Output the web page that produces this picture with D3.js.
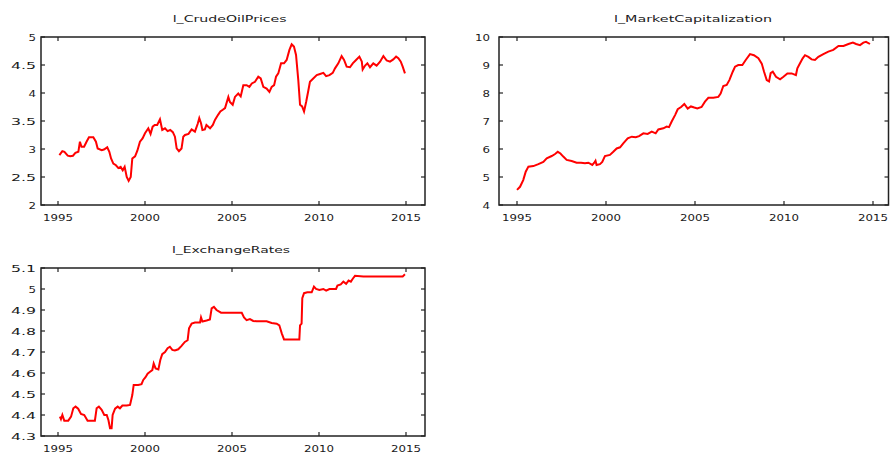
<!DOCTYPE html>
<html><head><meta charset="utf-8">
<script src="https://cdn.jsdelivr.net/npm/d3@7"></script>
<style>body{margin:0;background:#fff}svg{display:block}</style>
</head><body><svg id="c" width="890" height="453"></svg>
<script>
// ---- data (decimal years) ----
const crudeT=[1995.08,1995.25,1995.37,1995.56,1995.7,1995.86,1996.0,1996.17,1996.26,1996.35,1996.5,1996.64,1996.78,1997.03,1997.18,1997.28,1997.51,1997.64,1997.83,1997.95,1998.05,1998.18,1998.33,1998.47,1998.6,1998.72,1998.83,1998.95,1999.06,1999.18,1999.27,1999.43,1999.56,1999.71,1999.86,2000.0,2000.19,2000.32,2000.44,2000.56,2000.7,2000.86,2000.99,2001.15,2001.3,2001.45,2001.6,2001.72,2001.82,2001.95,2002.1,2002.2,2002.3,2002.5,2002.68,2002.87,2003.03,2003.12,2003.22,2003.3,2003.44,2003.53,2003.74,2003.9,2004.02,2004.2,2004.33,2004.47,2004.6,2004.79,2004.88,2005.04,2005.17,2005.36,2005.5,2005.65,2005.84,2006.0,2006.14,2006.32,2006.51,2006.65,2006.8,2006.99,2007.15,2007.28,2007.42,2007.53,2007.66,2007.82,2007.99,2008.14,2008.3,2008.43,2008.56,2008.68,2008.81,2008.91,2009.03,2009.14,2009.26,2009.39,2009.48,2009.67,2009.87,2010.06,2010.25,2010.41,2010.6,2010.79,2010.92,2011.11,2011.3,2011.44,2011.59,2011.78,2011.94,2012.13,2012.32,2012.46,2012.51,2012.65,2012.78,2012.93,2013.12,2013.31,2013.51,2013.7,2013.89,2014.08,2014.27,2014.43,2014.56,2014.7,2014.81,2014.94];
const crudeV=[2.89,2.96,2.95,2.88,2.87,2.88,2.93,2.95,3.13,3.04,3.04,3.13,3.21,3.21,3.13,3.01,2.98,2.99,3.03,2.95,2.83,2.74,2.71,2.66,2.68,2.62,2.68,2.50,2.43,2.50,2.83,2.87,2.97,3.13,3.19,3.28,3.37,3.27,3.40,3.43,3.43,3.53,3.34,3.37,3.32,3.34,3.30,3.22,3.01,2.96,3.01,3.22,3.25,3.27,3.35,3.31,3.45,3.55,3.46,3.34,3.35,3.43,3.37,3.43,3.52,3.61,3.67,3.70,3.73,3.93,3.84,3.79,3.93,3.99,3.94,4.14,4.14,4.11,4.17,4.20,4.29,4.26,4.11,4.08,4.02,4.11,4.14,4.29,4.35,4.53,4.53,4.59,4.77,4.87,4.83,4.68,4.23,3.79,3.76,3.67,3.84,4.05,4.20,4.26,4.32,4.34,4.36,4.30,4.32,4.36,4.44,4.53,4.66,4.59,4.47,4.46,4.53,4.59,4.65,4.56,4.42,4.49,4.53,4.46,4.53,4.49,4.56,4.66,4.58,4.56,4.60,4.65,4.62,4.56,4.47,4.35];

const mcapT=[1995.0,1995.17,1995.35,1995.49,1995.64,1995.92,1996.2,1996.48,1996.67,1996.95,1997.14,1997.29,1997.44,1997.6,1997.79,1998.07,1998.35,1998.6,1998.82,1999.01,1999.23,1999.34,1999.41,1999.47,1999.66,1999.79,1999.94,2000.22,2000.41,2000.6,2000.79,2000.97,2001.22,2001.45,2001.67,2001.86,2002.1,2002.34,2002.57,2002.79,2002.94,2003.22,2003.41,2003.54,2003.69,2003.88,2004.03,2004.22,2004.4,2004.59,2004.77,2004.96,2005.13,2005.37,2005.56,2005.75,2006.03,2006.31,2006.44,2006.59,2006.78,2006.93,2007.12,2007.25,2007.43,2007.66,2007.85,2008.09,2008.31,2008.56,2008.75,2008.88,2009.03,2009.16,2009.25,2009.37,2009.55,2009.78,2009.97,2010.19,2010.43,2010.67,2010.75,2010.9,2011.05,2011.18,2011.37,2011.55,2011.74,2011.93,2012.21,2012.49,2012.77,2013.06,2013.34,2013.62,2013.87,2014.05,2014.27,2014.46,2014.61,2014.83];
const mcapV=[4.54,4.65,4.89,5.19,5.37,5.39,5.46,5.54,5.67,5.75,5.82,5.90,5.84,5.73,5.61,5.57,5.51,5.51,5.49,5.51,5.43,5.51,5.58,5.43,5.46,5.54,5.75,5.79,5.90,6.02,6.06,6.20,6.38,6.44,6.42,6.46,6.56,6.54,6.62,6.56,6.70,6.74,6.80,6.78,6.98,7.21,7.42,7.50,7.61,7.44,7.52,7.48,7.45,7.50,7.69,7.83,7.83,7.86,7.98,8.25,8.29,8.46,8.76,8.94,9.00,9.00,9.18,9.39,9.35,9.24,9.05,8.76,8.46,8.41,8.71,8.76,8.58,8.49,8.58,8.70,8.70,8.64,8.88,9.06,9.24,9.35,9.29,9.20,9.18,9.29,9.39,9.48,9.54,9.68,9.68,9.75,9.80,9.75,9.71,9.80,9.83,9.75];

const exT=[1995.11,1995.17,1995.25,1995.36,1995.59,1995.75,1995.88,1996.01,1996.16,1996.32,1996.51,1996.7,1996.93,1997.12,1997.22,1997.35,1997.51,1997.66,1997.8,1997.9,1997.99,1998.08,1998.14,1998.28,1998.43,1998.56,1998.7,1998.95,1999.14,1999.27,1999.35,1999.61,1999.8,1999.9,2000.03,2000.15,2000.29,2000.42,2000.5,2000.61,2000.77,2000.88,2000.99,2001.15,2001.3,2001.43,2001.57,2001.72,2001.91,2002.1,2002.29,2002.45,2002.53,2002.68,2002.87,2003.16,2003.22,2003.3,2003.54,2003.73,2003.83,2003.96,2004.11,2004.37,2004.7,2005.14,2005.56,2005.69,2005.84,2006.03,2006.22,2006.41,2006.99,2007.28,2007.57,2007.72,2007.86,2007.99,2008.24,2008.62,2008.87,2008.91,2009.0,2009.04,2009.14,2009.33,2009.58,2009.71,2009.83,2010.02,2010.25,2010.41,2010.6,2010.98,2011.06,2011.25,2011.4,2011.56,2011.7,2011.83,2011.95,2012.07,2012.55,2013.5,2014.46,2014.81,2014.94];
const exV=[4.392,4.38,4.40,4.373,4.373,4.392,4.432,4.44,4.43,4.405,4.40,4.373,4.373,4.373,4.432,4.44,4.425,4.40,4.40,4.375,4.337,4.337,4.40,4.43,4.44,4.432,4.445,4.445,4.448,4.495,4.543,4.543,4.547,4.567,4.58,4.597,4.606,4.614,4.645,4.622,4.617,4.662,4.69,4.70,4.718,4.725,4.71,4.707,4.713,4.729,4.748,4.756,4.813,4.835,4.84,4.84,4.865,4.845,4.85,4.855,4.908,4.915,4.90,4.887,4.887,4.887,4.887,4.865,4.852,4.857,4.848,4.846,4.846,4.838,4.835,4.827,4.789,4.76,4.76,4.76,4.76,4.827,4.835,4.956,4.98,4.984,4.984,5.011,5.0,4.995,5.0,4.992,5.0,5.0,5.016,5.022,5.035,5.025,5.04,5.035,5.05,5.063,5.06,5.06,5.06,5.06,5.07];

const xTicks=[1995,2000,2005,2010,2015];
const crudeTicks=[2,2.5,3,3.5,4,4.5,5];
const mcapTicks=[4,5,6,7,8,9,10];
const exTicks=[4.3,4.4,4.5,4.6,4.7,4.8,4.9,5,5.1];
const titles=["l_CrudeOilPrices","l_MarketCapitalization","l_ExchangeRates"];

// ---- layout ----
const panels=[
  {title:titles[0],T:crudeT,V:crudeV,yt:crudeTicks,yd:[2,5],fx:[41,425],fy:[37,205],xr:[58,406],
   tx:229.7,ty:22,tw:114,ylx:36,xly:221},
  {title:titles[1],T:mcapT,V:mcapV,yt:mcapTicks,yd:[4,10],fx:[499,888.5],fy:[37,205],xr:[517,873],
   tx:693,ty:22,tw:158,ylx:490,xly:221},
  {title:titles[2],T:exT,V:exV,yt:exTicks,yd:[4.3,5.1],fx:[41,425],fy:[268,436],xr:[58,406],
   tx:231,ty:253,tw:118,ylx:36,xly:452}
];

const svg=d3.select("#c");
const FONT="DejaVu Sans";
function labW(s){let w=0;for(const ch of s){w+= ch==="."?10:7.5;}return w;}

panels.forEach(p=>{
  const g=svg.append("g");
  const x=d3.scaleLinear().domain([1995,2015]).range(p.xr);
  const y=d3.scaleLinear().domain(p.yd).range([p.fy[1],p.fy[0]]);
  const TL=4;
  // ticks (inward on all sides)
  xTicks.forEach(t=>{
    g.append("line").attr("x1",x(t)).attr("x2",x(t)).attr("y1",p.fy[1]).attr("y2",p.fy[1]-TL)
      .attr("stroke","#222").attr("stroke-width",1.2);
    g.append("line").attr("x1",x(t)).attr("x2",x(t)).attr("y1",p.fy[0]).attr("y2",p.fy[0]+TL)
      .attr("stroke","#222").attr("stroke-width",1.2);
    const s=String(t);
    g.append("text").attr("x",x(t)).attr("y",p.xly).attr("text-anchor","middle")
      .attr("font-family",FONT).attr("font-size",9.5).attr("fill","#1a1a1a")
      .attr("textLength",labW(s)).attr("lengthAdjust","spacingAndGlyphs").text(s);
  });
  p.yt.forEach(t=>{
    g.append("line").attr("x1",p.fx[0]).attr("x2",p.fx[0]+TL).attr("y1",y(t)).attr("y2",y(t))
      .attr("stroke","#222").attr("stroke-width",1.2);
    g.append("line").attr("x1",p.fx[1]).attr("x2",p.fx[1]-TL).attr("y1",y(t)).attr("y2",y(t))
      .attr("stroke","#222").attr("stroke-width",1.2);
    const s=String(+t.toFixed(1));
    g.append("text").attr("x",p.ylx).attr("y",y(t)+3.5).attr("text-anchor","end")
      .attr("font-family",FONT).attr("font-size",9.5).attr("fill","#1a1a1a")
      .attr("textLength",labW(s)).attr("lengthAdjust","spacingAndGlyphs").text(s);
  });
  // frame
  g.append("rect").attr("x",p.fx[0]).attr("y",p.fy[0]).attr("width",p.fx[1]-p.fx[0]).attr("height",p.fy[1]-p.fy[0])
    .attr("fill","none").attr("stroke","#222").attr("stroke-width",1.5);
  // line
  const data=p.T.map((t,i)=>[t,p.V[i]]);
  g.append("path").datum(data)
    .attr("d",d3.line().x(d=>x(d[0])).y(d=>y(d[1])))
    .attr("fill","none").attr("stroke","#ff0000").attr("stroke-width",2).attr("stroke-linejoin","miter");
  // title
  g.append("text").attr("x",p.tx).attr("y",p.ty).attr("text-anchor","middle")
    .attr("font-family",FONT).attr("font-size",9.5).attr("fill","#1a1a1a")
    .attr("textLength",p.tw).attr("lengthAdjust","spacingAndGlyphs").text(p.title);
});
</script></body></html>
